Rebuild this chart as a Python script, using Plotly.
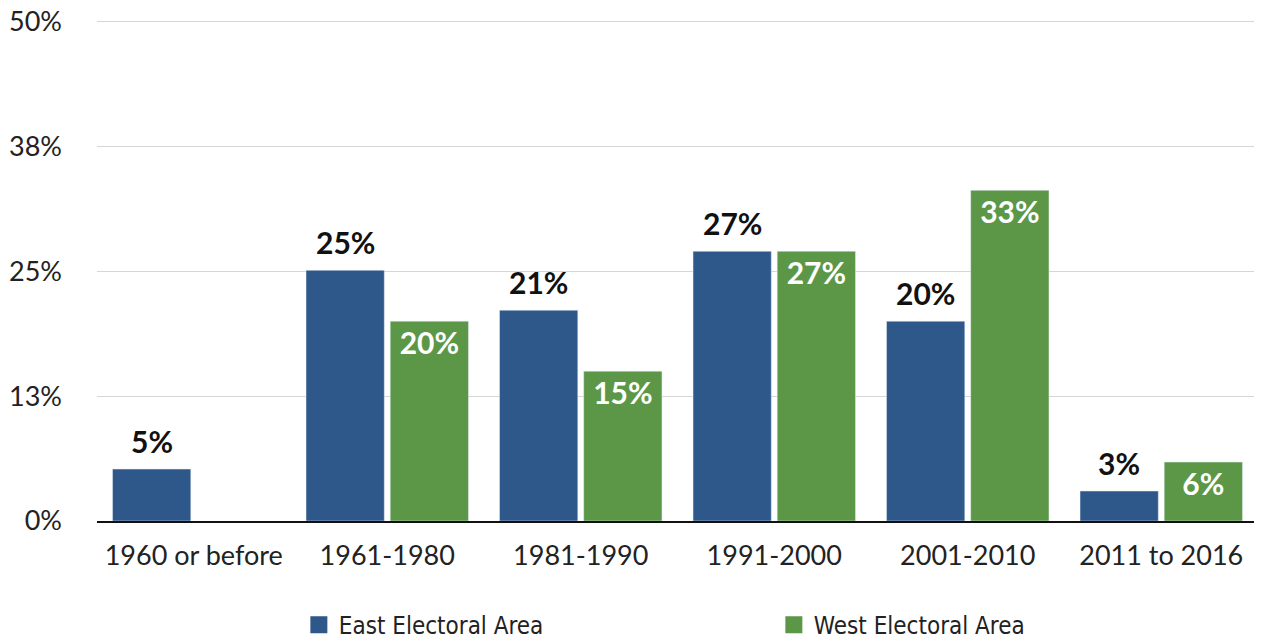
import plotly.graph_objects as go

# data
periods = ["1960 or before", "1961-1980", "1981-1990", "1991-2000", "2001-2010", "2011 to 2016"]
east_vals = [5.2, 25.1, 21.1, 27.0, 20.0, 3.0]
west_vals = [None, 20.0, 15.0, 27.0, 33.1, 5.9]
east_text = ["5%", "25%", "21%", "27%", "20%", "3%"]
west_text = ["", "20%", "15%", "27%", "33%", "6%"]
y_ticks = [0, 12.5, 25, 37.5, 50]
y_tick_text = ["0%", "13%", "25%", "38%", "50%"]

EAST = "#2E588A"
WEST = "#5C9748"
label_font = dict(family="Lato", size=30, color="#111111", weight="bold")

fig = go.Figure()

fig.add_trace(go.Bar(
    x=periods, y=east_vals, name="East Electoral Area",
    marker_color=EAST, showlegend=False, offsetgroup="east",
))
fig.add_trace(go.Bar(
    x=periods, y=west_vals, name="West Electoral Area",
    marker_color=WEST, showlegend=False, offsetgroup="west",
    text=west_text, textposition="inside", insidetextanchor="end",
    textangle=0,
    textfont=dict(family="Lato", size=30, color="white", weight="bold"),
))

# legend-only entries (bigger squares than the default bar swatch)
for name, col, grp in [("East Electoral Area", EAST, "east"), ("West Electoral Area", WEST, "west")]:
    fig.add_trace(go.Bar(
        x=[None], y=[None], name=name, marker_color=col, offsetgroup=grp,
        marker_line=dict(color=col, width=6), showlegend=True,
    ))

# east labels sit above the bars with a bit of space
for p, v, t in zip(periods, east_vals, east_text):
    fig.add_annotation(
        x=p, y=v, text=t, showarrow=False, xshift=-42, yshift=8,
        yanchor="bottom", font=label_font,
    )

# page body adds an 8px margin, so the figure is a bit smaller than the window
fig.update_layout(
    width=1254, height=633,
    margin=dict(l=89, r=4, t=12, b=120),
    plot_bgcolor="white", paper_bgcolor="white",
    barmode="group", bargap=0.13, bargroupgap=0.07,
    uniformtext=dict(minsize=10, mode="show"),
    font=dict(family="Lato", size=27, color="#222222"),
    legend=dict(
        orientation="h", x=0.583, xanchor="center",
        yref="container", y=0.025, yanchor="middle",
        font=dict(family="DejaVu Sans Condensed", size=24, color="#222222"),
        entrywidth=430, entrywidthmode="pixels",
    ),
    showlegend=True,
)

fig.update_yaxes(
    range=[0, 50.15], tickvals=y_ticks, ticktext=y_tick_text,
    showgrid=True, gridcolor="#d6d6d6", gridwidth=1,
    zeroline=False, showline=False, ticks="", ticklabelstandoff=34,
    ticklabeloverflow="allow",
    tickfont=dict(size=27, color="#222222"), automargin=False,
)
fig.update_xaxes(
    showline=True, linecolor="#111111", linewidth=2,
    ticks="", tickfont=dict(size=27, color="#222222"),
    ticklabelstandoff=10, automargin=False,
)

fig.write_html("out.html")
